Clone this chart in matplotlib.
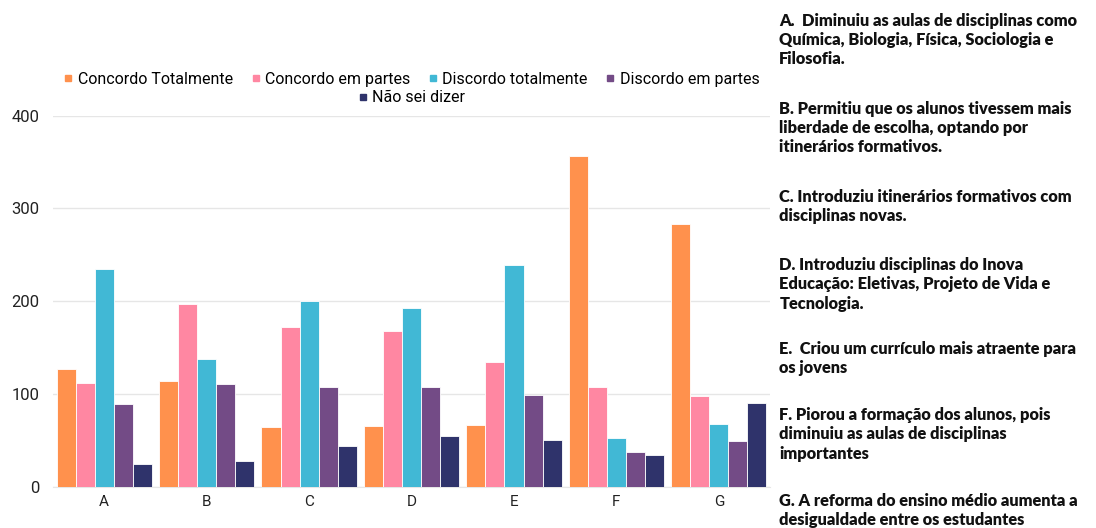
import matplotlib
matplotlib.use("Agg")
import matplotlib.pyplot as plt
import numpy as np
from matplotlib.lines import Line2D

# data
categories = ["A", "B", "C", "D", "E", "F", "G"]
series_names = ["Concordo Totalmente", "Concordo em partes", "Discordo totalmente",
                "Discordo em partes", "Não sei dizer"]
concordo_total = [127, 114, 64, 65, 66, 357, 283]
concordo_partes = [112, 197, 172, 168, 134, 107, 98]
discordo_total = [235, 138, 200, 193, 239, 52, 68]
discordo_partes = [89, 111, 108, 107, 99, 37, 49]
nao_sei = [25, 28, 44, 55, 50, 34, 90]
yticks = [0, 100, 200, 300, 400]

descriptions = [
    "A.  Diminuiu as aulas de disciplinas como\nQuímica, Biologia, Física, Sociologia e\nFilosofia.",
    "B. Permitiu que os alunos tivessem mais\nliberdade de escolha, optando por\nitinerários formativos.",
    "C. Introduziu itinerários formativos com\ndisciplinas novas.",
    "D. Introduziu disciplinas do Inova\nEducação: Eletivas, Projeto de Vida e\nTecnologia.",
    "E.  Criou um currículo mais atraente para\nos jovens",
    "F. Piorou a formação dos alunos, pois\ndiminuiu as aulas de disciplinas\nimportantes",
    "G. A reforma do ensino médio aumenta a\ndesigualdade entre os estudantes",
]

colors = ["#ff914d", "#ff87a2", "#41b8d5", "#734b86", "#2f336b"]
all_series = [concordo_total, concordo_partes, discordo_total, discordo_partes, nao_sei]

plt.rcParams["font.family"] = ["Roboto", "DejaVu Sans"]

fig = plt.figure(figsize=(10.96, 5.28), dpi=100)
ax = fig.add_axes([0.0484, 0.0782, 0.6542, 0.7027])

x = np.arange(len(categories))
n = len(all_series)
group_w = 0.93
bw = group_w / n
for i, (vals, col) in enumerate(zip(all_series, colors)):
    ax.bar(x - group_w / 2 + bw * (i + 0.5), vals, width=bw, color=col,
           edgecolor="white", linewidth=0.6, zorder=3)

ax.set_xlim(-0.5, len(categories) - 0.5)
ax.set_ylim(0, 400)
ax.set_yticks(yticks)
ax.set_xticks(x)
ax.set_xticklabels(categories)
ax.tick_params(axis="both", length=0, labelsize=11, colors="#222222")
ax.tick_params(axis="y", pad=10, labelsize=12)
ax.tick_params(axis="x", pad=6)
ax.grid(axis="y", color="#e6e6e6", linewidth=1, zorder=0)
for s in ["top", "right", "left"]:
    ax.spines[s].set_visible(False)
ax.spines["bottom"].set_color("#e6e6e6")

handles = [Line2D([], [], marker="s", linestyle="none", markersize=4,
                  color=c) for c in colors]
leg1 = ax.legend(handles[:4], series_names[:4], ncol=4, loc="center",
                 bbox_to_anchor=(0.5, 1.098), frameon=False, fontsize=11.5,
                 handlelength=0.6, handletextpad=0.3, columnspacing=1.1)
ax.add_artist(leg1)
ax.legend(handles[4:], series_names[4:], ncol=1, loc="center",
          bbox_to_anchor=(0.5, 1.048), frameon=False, fontsize=11.5,
          handlelength=0.6, handletextpad=0.3)

# descriptions on the right
tops = [0.976, 0.809, 0.642, 0.513, 0.354, 0.229, 0.066]
for txt, ty in zip(descriptions, tops):
    fig.text(0.711, ty, txt, fontsize=11.8, fontweight="heavy", family="Lato",
             va="top", ha="left", linespacing=1.25, color="#111111")

fig.savefig("out.png", dpi=100)
